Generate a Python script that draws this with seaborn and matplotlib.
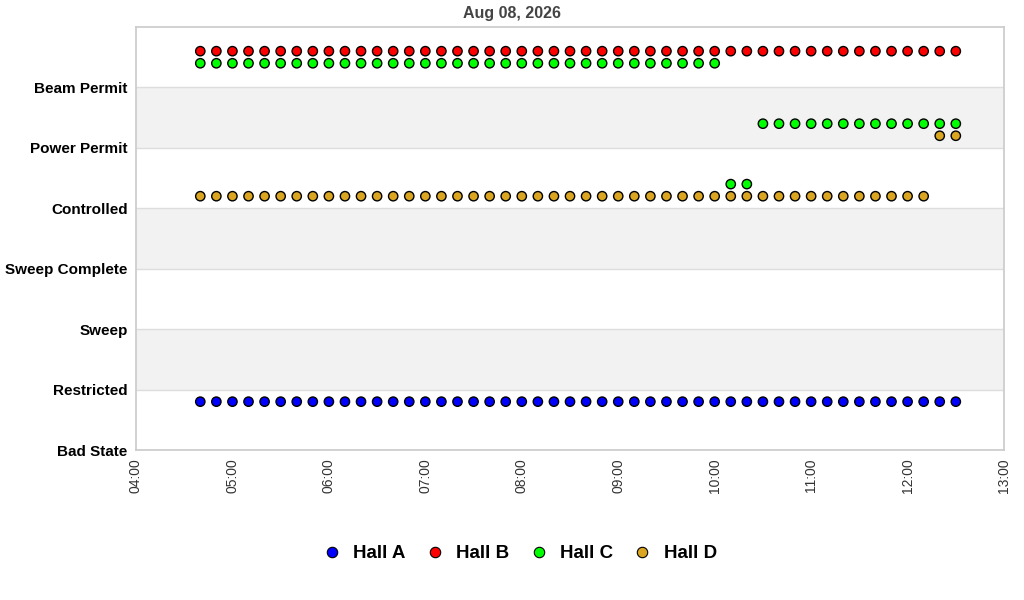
import pandas as pd
import matplotlib
matplotlib.use("Agg")
import matplotlib.pyplot as plt
import matplotlib.dates as mdates
import seaborn as sns

# State levels on the y axis (bottom to top)
states = ["Bad State", "Restricted", "Sweep", "Sweep Complete",
          "Controlled", "Power Permit", "Beam Permit"]

# Sample times, every 10 minutes from 04:40 to 12:30
times = pd.date_range("2026-08-08 04:40", "2026-08-08 12:30", freq="10min")

hall_a = ["Restricted"] * 48
hall_b = ["Beam Permit"] * 48
hall_c = ["Beam Permit"] * 33 + ["Controlled"] * 2 + ["Power Permit"] * 13
hall_d = ["Controlled"] * 46 + ["Power Permit"] * 2

halls = ["Hall A", "Hall B", "Hall C", "Hall D"]
colors = ["#0000ff", "#ff0000", "#00ff00", "#daa520"]
# vertical offset of each hall inside a state band
offsets = [-0.2, 0.6, 0.4, 0.2]

rows = []
for name, vals, off in zip(halls, [hall_a, hall_b, hall_c, hall_d], offsets):
    for t, s in zip(times, vals):
        rows.append({"time": t, "level": states.index(s) + off, "hall": name})
df = pd.DataFrame(rows)

sns.set_theme(style="white")
plt.rcParams["font.family"] = ["Liberation Sans", "DejaVu Sans"]
plt.rcParams["text.color"] = "black"

fig = plt.figure(figsize=(10.24, 6), dpi=100)
ax = fig.add_axes([0.1328, 0.25, 0.8477, 0.705])

# alternating background bands
for lo in [1, 3, 5]:
    ax.axhspan(lo, lo + 1, color="#f2f2f2", zorder=0, lw=0)
for y in range(1, 7):
    ax.axhline(y, color="#dddddd", lw=1, zorder=1)

sns.scatterplot(data=df, x="time", y="level", hue="hall", hue_order=halls,
                palette=colors, s=45, edgecolor="black", linewidth=1,
                ax=ax, zorder=3, legend=False)

ax.set_ylim(0, 7)
ax.set_yticks(range(7))
ax.set_yticklabels(states, fontsize=11, fontweight="bold", color="black")
ax.set_xlim(pd.Timestamp("2026-08-08 04:00"), pd.Timestamp("2026-08-08 13:00"))
ax.xaxis.set_major_locator(mdates.HourLocator())
ax.xaxis.set_major_formatter(mdates.DateFormatter("%H:%M"))
plt.setp(ax.get_xticklabels(), rotation=90, fontsize=10, color="#333333")
ax.tick_params(length=0, pad=6)
ax.set_xlabel("")
ax.set_ylabel("")
for sp in ax.spines.values():
    sp.set_color("#cccccc")
fig.suptitle("Aug 08, 2026", x=0.5, y=0.99, fontsize=11.5, fontweight="bold",
             color="#444444", va="top")

handles = [plt.Line2D([], [], marker="o", ls="", markersize=7.5, markerfacecolor=c,
                      markeredgecolor="black", markeredgewidth=0.8) for c in colors]
fig.legend(handles, halls, loc="center", bbox_to_anchor=(0.503, 0.077), ncol=4,
           frameon=False, prop={"size": 13.5, "weight": "bold"}, handletextpad=0.15,
           columnspacing=0.55, labelcolor="black")

fig.savefig("out.png", dpi=100)
